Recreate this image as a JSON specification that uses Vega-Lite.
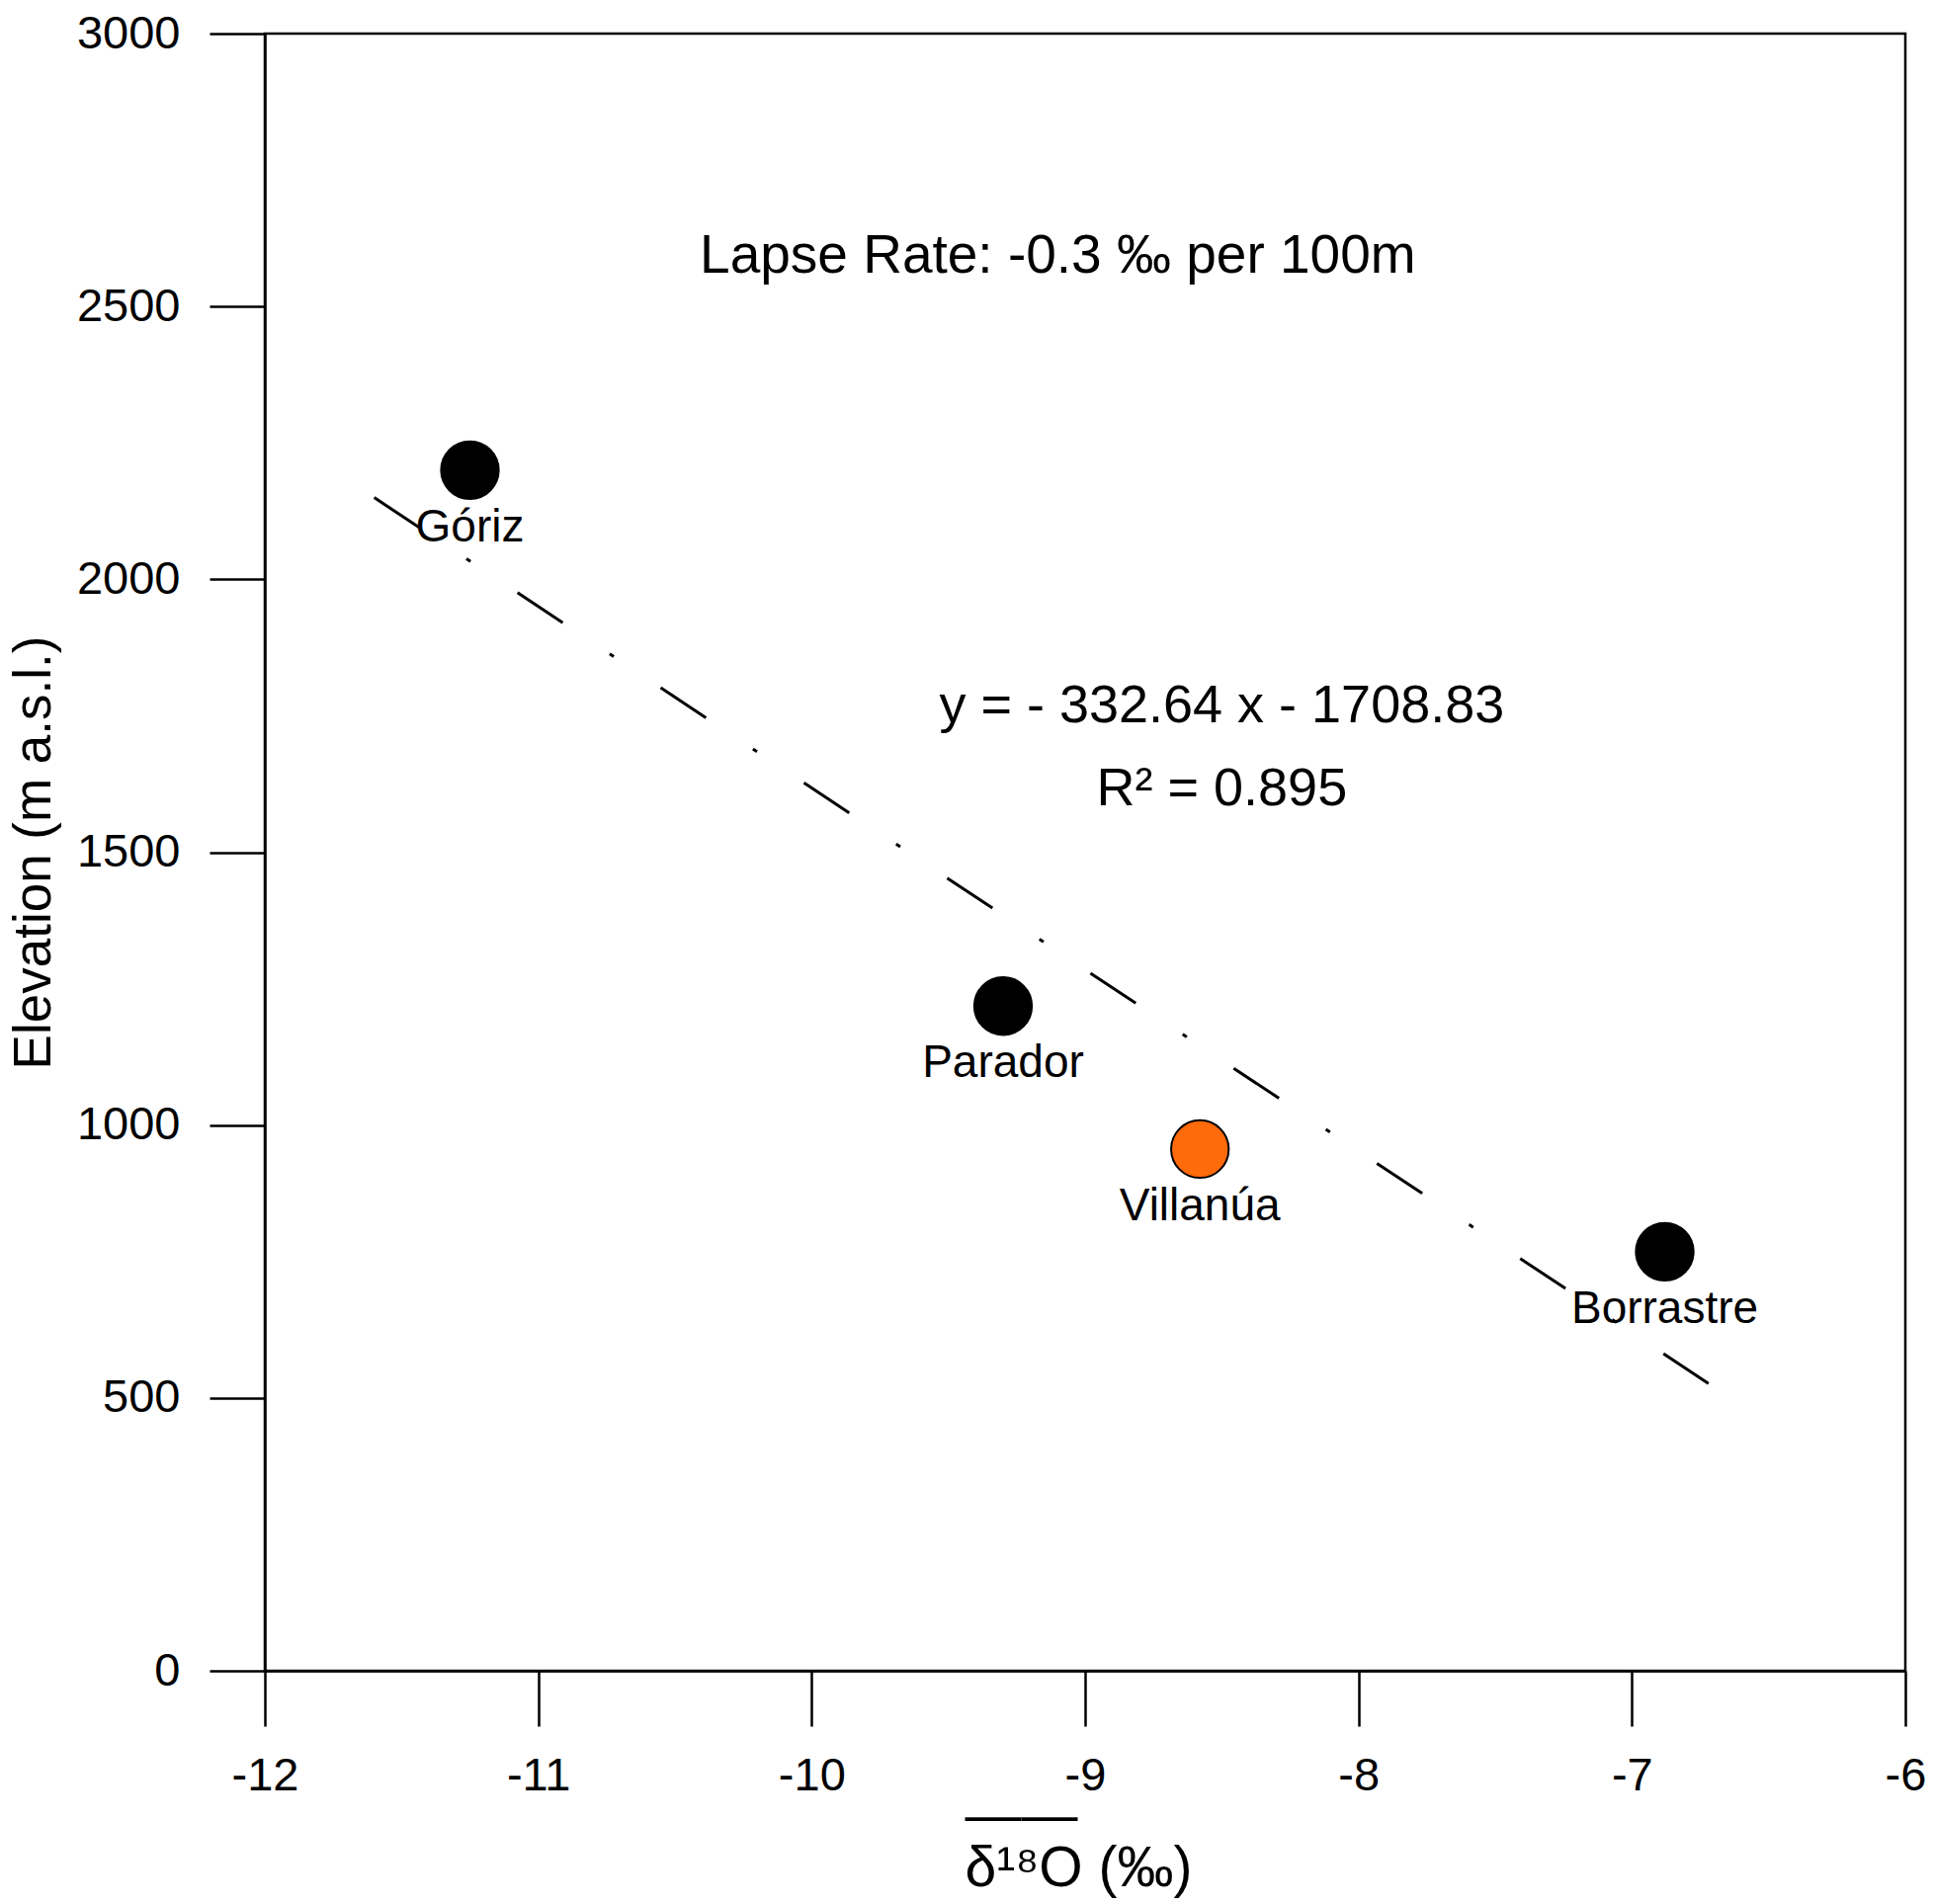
{
  "$schema": "https://vega.github.io/schema/vega-lite/v6.json",
  "width": 1660,
  "height": 1657,
  "autosize": "none",
  "padding": {"left": 268, "top": 34, "right": 29, "bottom": 236},
  "background": "white",
  "config": {
    "font": "Liberation Sans",
    "view": {"stroke": "black", "strokeWidth": 2.5},
    "axis": {
      "grid": false,
      "domainColor": "black",
      "domainWidth": 2.5,
      "tickColor": "black",
      "tickWidth": 2.5,
      "tickSize": 56,
      "labelColor": "black",
      "labelFont": "Liberation Sans",
      "labelFontSize": 47,
      "labelFlush": false,
      "titleColor": "black",
      "titleFont": "Liberation Sans",
      "titleFontWeight": "normal"
    }
  },
  "datasets": {
    "stations": [
      {"station": "Góriz", "d18O": -11.25, "elevation": 2200},
      {"station": "Parador", "d18O": -9.3, "elevation": 1218},
      {"station": "Villanúa", "d18O": -8.58, "elevation": 956},
      {"station": "Borrastre", "d18O": -6.88, "elevation": 768}
    ],
    "fit": [
      {"d18O": -11.6, "elevation": 2149.8},
      {"d18O": -6.72, "elevation": 526.5}
    ]
  },
  "layer": [
    {
      "data": {"name": "fit"},
      "mark": {"type": "line", "color": "black", "strokeWidth": 3, "strokeDash": [55, 57, 5, 57]},
      "encoding": {
        "x": {
          "field": "d18O",
          "type": "quantitative",
          "scale": {"domain": [-12, -6], "nice": false, "zero": false},
          "axis": {
            "values": [-12, -11, -10, -9, -8, -7, -6],
            "labelExpr": "'' + datum.value",
            "labelPadding": 27,
            "title": ["\u2014\u2014", "δ¹⁸O (‰)"],
            "titleFontSize": 57,
            "titleLineHeight": 53,
            "titleAlign": "left",
            "titleX": 708,
            "titlePadding": -10
          }
        },
        "y": {
          "field": "elevation",
          "type": "quantitative",
          "scale": {"domain": [0, 3000], "nice": false},
          "axis": {
            "values": [0, 500, 1000, 1500, 2000, 2500, 3000],
            "format": "d",
            "labelPadding": 30,
            "title": "Elevation (m a.s.l.)",
            "titleFontSize": 53,
            "titlePadding": 16
          }
        }
      }
    },
    {
      "data": {"name": "stations"},
      "mark": {"type": "point", "shape": "circle", "filled": true, "size": 3400, "stroke": "black", "strokeWidth": 2, "opacity": 1},
      "encoding": {
        "x": {"field": "d18O", "type": "quantitative"},
        "y": {"field": "elevation", "type": "quantitative"},
        "fill": {
          "condition": {"test": "datum.station === 'Villanúa'", "value": "#ff6a0b"},
          "value": "black"
        }
      }
    },
    {
      "data": {"name": "stations"},
      "mark": {"type": "text", "fontSize": 46, "dy": 58, "baseline": "middle", "align": "center", "color": "black"},
      "encoding": {
        "x": {"field": "d18O", "type": "quantitative"},
        "y": {"field": "elevation", "type": "quantitative"},
        "text": {"field": "station"}
      }
    },
    {
      "data": {"values": [{}]},
      "mark": {"type": "text", "fontSize": 55, "baseline": "middle", "align": "center", "color": "black"},
      "encoding": {
        "x": {"datum": -9.1},
        "y": {"datum": 2592},
        "text": {"value": "Lapse Rate: -0.3 ‰ per 100m"}
      }
    },
    {
      "data": {"values": [{}]},
      "mark": {"type": "text", "fontSize": 54, "baseline": "middle", "align": "center", "color": "black"},
      "encoding": {
        "x": {"datum": -8.5},
        "y": {"datum": 1767},
        "text": {"value": "y = - 332.64 x - 1708.83"}
      }
    },
    {
      "data": {"values": [{}]},
      "mark": {"type": "text", "fontSize": 54, "baseline": "middle", "align": "center", "color": "black"},
      "encoding": {
        "x": {"datum": -8.5},
        "y": {"datum": 1615},
        "text": {"value": "R² = 0.895"}
      }
    }
  ]
}
